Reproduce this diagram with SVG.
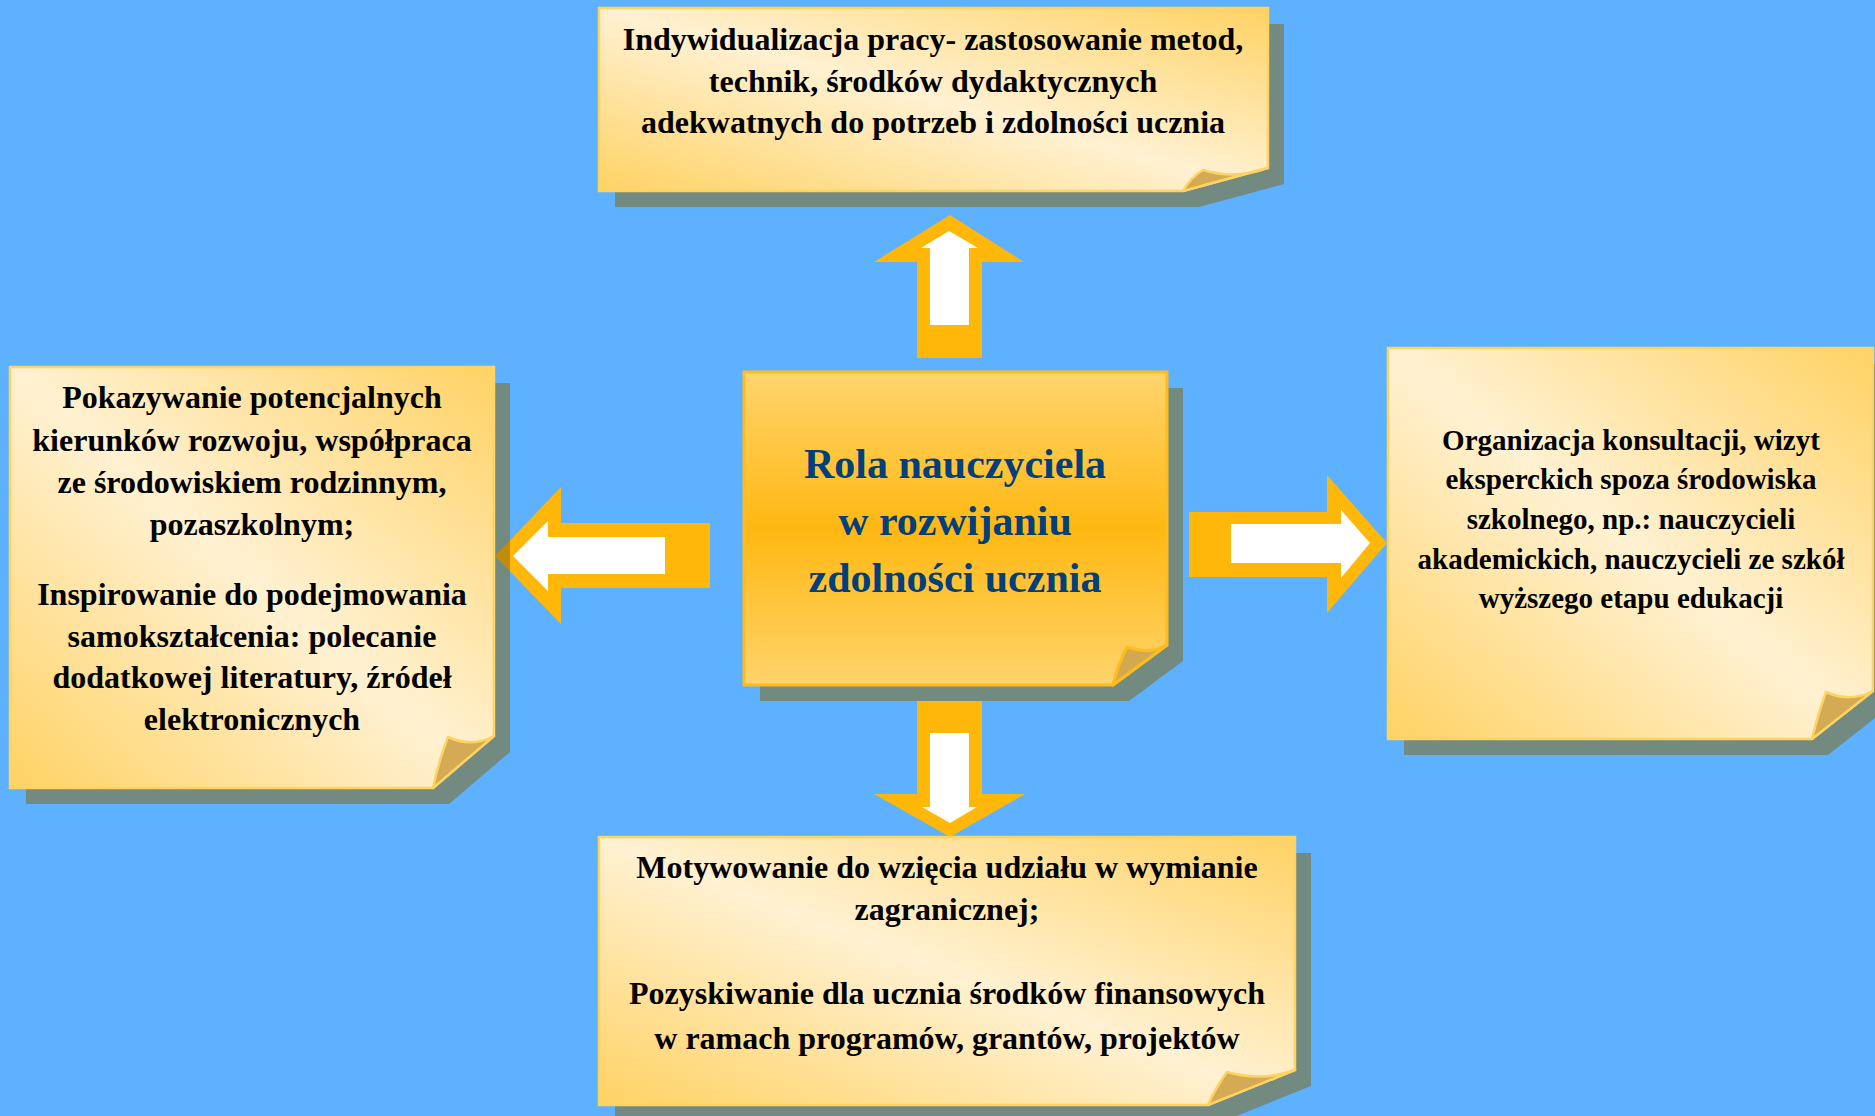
<svg xmlns="http://www.w3.org/2000/svg" width="1875" height="1116" viewBox="0 0 1875 1116">
<defs>
<linearGradient id="note" x1="1" y1="0" x2="0" y2="1">
<stop offset="0" stop-color="#FFD264"/>
<stop offset="0.5" stop-color="#FFF1D2"/>
<stop offset="1" stop-color="#FFD264"/>
</linearGradient>
<linearGradient id="core" x1="0" y1="0" x2="0" y2="1">
<stop offset="0" stop-color="#FFD56E"/>
<stop offset="0.5" stop-color="#FFB812"/>
<stop offset="1" stop-color="#FFD46C"/>
</linearGradient>
<style>
.shadow{fill:#86650C;fill-opacity:0.52}
.note{fill:url(#note);stroke:#FFD35F;stroke-width:2.5}
.core{fill:url(#core);stroke:#FFBC1C;stroke-width:3}
.fold{fill:#D4AA55;stroke:#FFD35F;stroke-width:2.5;stroke-linejoin:round}
.cfold{fill:#D2A94E;stroke:#FFBC1C;stroke-width:3;stroke-linejoin:round}
.t{font-family:"Liberation Serif","Times New Roman",serif;font-weight:bold;fill:#000;text-anchor:middle}
.ct{font-family:"Liberation Serif","Times New Roman",serif;font-weight:bold;fill:#033F7A;text-anchor:middle;font-size:42px}
.ao{fill:#FFB70A}
.aw{fill:#FFFFFF}
</style>
</defs>
<rect width="1875" height="1116" fill="#5EB1FE"/>
<g id="connectors">
<polygon class="ao" points="917,358 917,262 874,262 950,215 1024,262 982,262 982,358"/>
<polygon class="aw" points="930,325 930,248 921,248 949,231 978,248 969,248 969,325"/>
<polygon class="ao" points="917,701 982,701 982,794 1025,794 950,837 874,794 917,794"/>
<polygon class="aw" points="930,733 969,733 969,807 977,807 950,823 922,807 930,807"/>
<polygon class="ao" points="710,523 561,523 561,487 495,556 561,624 561,588 710,588"/>
<polygon class="aw" points="665,537 548,537 548,521 513,556 548,591 548,574 665,574"/>
<polygon class="ao" points="1189,512 1327,512 1327,475 1387,543 1327,613 1327,577 1189,577"/>
<polygon class="aw" points="1231,524 1341,524 1341,510 1370,543 1341,578 1341,563 1231,563"/>
</g>
<g id="top">
<path class="shadow" d="M615,24 H1284 V184 L1199,207 H615 Z"/>
<path class="note" d="M599,8 H1268 V168 L1183,191 H599 Z"/>
<path class="fold" d="M1183,191 Q1190,178 1203,170 Q1235,180 1267,168 Z"/>
<text class="t" font-size="32" x="933" y="50">Indywidualizacja pracy- zastosowanie metod,</text>
<text class="t" font-size="32" x="933" y="92">technik, środków dydaktycznych</text>
<text class="t" font-size="32" x="933" y="133">adekwatnych do potrzeb i zdolności ucznia</text>
</g>
<g id="center">
<path class="shadow" d="M760,388 H1183 V661 L1129,701 H760 Z"/>
<path class="core" d="M744,372 H1167 V645 L1113,685 H744 Z"/>
<path class="cfold" d="M1113,685 Q1118,664 1127,647 Q1150,655 1167,645 Z"/>
<text class="ct" x="955" y="478">Rola nauczyciela</text>
<text class="ct" x="955" y="535">w rozwijaniu</text>
<text class="ct" x="955" y="592">zdolności ucznia</text>
</g>
<g id="left">
<path class="shadow" d="M26,383 H510 V752 L449,804 H26 Z"/>
<path class="note" d="M10,367 H494 V736 L433,788 H10 Z"/>
<path class="fold" d="M433,788 Q439,760 448,737 Q472,748 494,736 Z"/>
<text class="t" font-size="32" x="252" y="408">Pokazywanie potencjalnych</text>
<text class="t" font-size="32" x="252" y="451">kierunków rozwoju, współpraca</text>
<text class="t" font-size="32" x="252" y="493">ze środowiskiem rodzinnym,</text>
<text class="t" font-size="32" x="252" y="535">pozaszkolnym;</text>
<text class="t" font-size="32" x="252" y="605">Inspirowanie do podejmowania</text>
<text class="t" font-size="32" x="252" y="647">samokształcenia: polecanie</text>
<text class="t" font-size="32" x="252" y="688">dodatkowej literatury, źródeł</text>
<text class="t" font-size="32" x="252" y="730">elektronicznych</text>
</g>
<g id="right">
<path class="shadow" d="M1404,364 H1889 V707 L1828,755 H1404 Z"/>
<path class="note" d="M1388,348 H1873 V691 L1812,739 H1388 Z"/>
<path class="fold" d="M1812,739 Q1818,714 1826,692 Q1850,703 1873,691 Z"/>
<text class="t" font-size="29" x="1631" y="450">Organizacja konsultacji, wizyt</text>
<text class="t" font-size="29" x="1631" y="489">eksperckich spoza środowiska</text>
<text class="t" font-size="29" x="1631" y="529">szkolnego, np.: nauczycieli</text>
<text class="t" font-size="29" x="1631" y="569">akademickich, nauczycieli ze szkół</text>
<text class="t" font-size="29" x="1631" y="608">wyższego etapu edukacji</text>
</g>
<g id="bottom">
<path class="shadow" d="M615,853 H1311 V1086 L1224,1121 H615 Z"/>
<path class="note" d="M599,837 H1295 V1070 L1208,1105 H599 Z"/>
<path class="fold" d="M1208,1105 Q1216,1087 1227,1072 Q1262,1082 1295,1070 Z"/>
<text class="t" font-size="32" x="947" y="878">Motywowanie do wzięcia udziału w wymianie</text>
<text class="t" font-size="32" x="947" y="920">zagranicznej;</text>
<text class="t" font-size="32" x="947" y="1004">Pozyskiwanie dla ucznia środków finansowych</text>
<text class="t" font-size="32" x="947" y="1049">w ramach programów, grantów, projektów</text>
</g>
</svg>
